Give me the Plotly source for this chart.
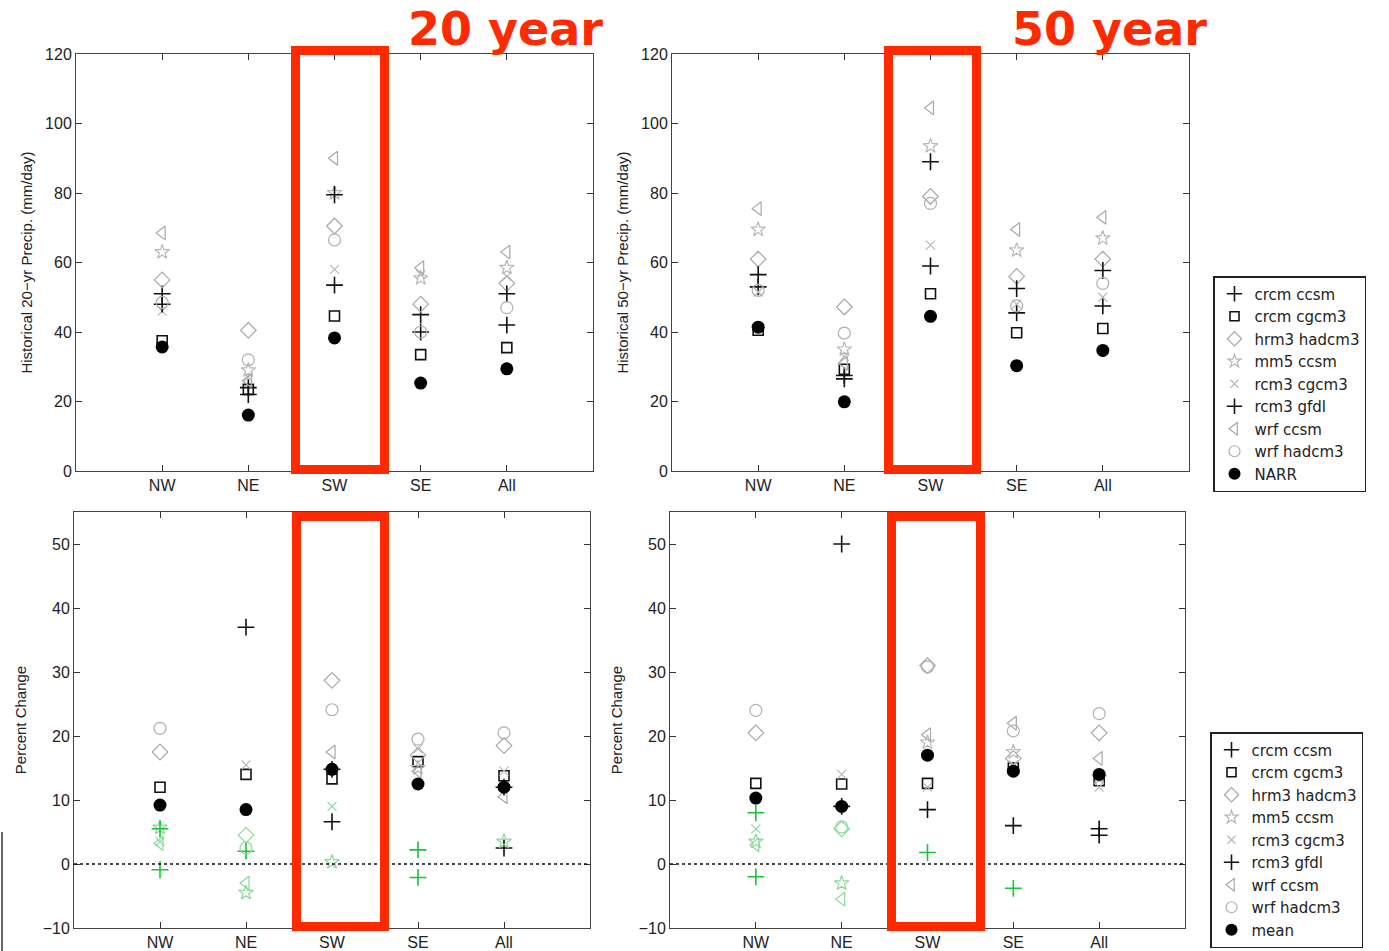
import plotly.graph_objects as go

# ---------------- data ----------------
regions = ["NW", "NE", "SW", "SE", "All"]
series = ["crcm ccsm", "crcm cgcm3", "hrm3 hadcm3", "mm5 ccsm",
          "rcm3 cgcm3", "rcm3 gfdl", "wrf ccsm", "wrf hadcm3"]

# Historical 20-yr return level precipitation (mm/day)
hist20 = {
    "crcm ccsm":   [51.0, 22.0, 53.5, 45.0, 42.0],
    "crcm cgcm3":  [37.5, 23.5, 44.6, 33.5, 35.5],
    "hrm3 hadcm3": [55.0, 40.5, 70.5, 48.0, 54.0],
    "mm5 ccsm":    [63.0, 29.0, 80.0, 55.5, 58.5],
    "rcm3 cgcm3":  [46.0, 27.0, 58.0, 56.5, 56.0],
    "rcm3 gfdl":   [48.0, 24.0, 79.5, 40.0, 51.0],
    "wrf ccsm":    [68.5, 26.0, 90.0, 58.5, 63.0],
    "wrf hadcm3":  [48.5, 32.0, 66.5, 40.0, 47.0],
}
narr20 = [35.7, 16.1, 38.3, 25.3, 29.4]

# Historical 50-yr return level precipitation (mm/day)
hist50 = {
    "crcm ccsm":   [53.0, 26.5, 59.0, 45.5, 47.5],
    "crcm cgcm3":  [40.5, 29.3, 51.0, 39.8, 41.0],
    "hrm3 hadcm3": [61.0, 47.2, 79.0, 56.0, 61.0],
    "mm5 ccsm":    [69.5, 35.0, 93.5, 63.5, 67.0],
    "rcm3 cgcm3":  [51.5, 33.0, 65.0, 48.0, 50.0],
    "rcm3 gfdl":   [56.5, 27.5, 89.0, 52.5, 57.7],
    "wrf ccsm":    [75.5, 31.0, 104.5, 69.5, 73.0],
    "wrf hadcm3":  [52.0, 39.7, 77.0, 47.5, 54.0],
}
narr50 = [41.4, 19.9, 44.5, 30.3, 34.7]

# Percent change, 20-yr return level
pct20 = {
    "crcm ccsm":   [-0.9, 2.0, 6.6, 2.2, 2.5],
    "crcm cgcm3":  [12.0, 14.0, 13.3, 16.0, 13.8],
    "hrm3 hadcm3": [17.5, 4.5, 28.7, 17.0, 18.5],
    "mm5 ccsm":    [5.7, -4.5, 0.3, 15.0, 3.5],
    "rcm3 cgcm3":  [3.5, 15.5, 9.0, 18.0, 14.5],
    "rcm3 gfdl":   [5.5, 37.0, 14.8, -2.1, 12.0],
    "wrf ccsm":    [3.2, -3.0, 17.5, 14.5, 10.5],
    "wrf hadcm3":  [21.2, 2.5, 24.1, 19.5, 20.5],
}
mean20 = [9.2, 8.5, 14.8, 12.5, 12.0]

# Percent change, 50-yr return level
pct50 = {
    "crcm ccsm":   [-2.0, 50.0, 8.5, 6.0, 5.5],
    "crcm cgcm3":  [12.6, 12.5, 12.6, 15.0, 13.0],
    "hrm3 hadcm3": [20.5, 5.5, 31.0, 16.5, 20.5],
    "mm5 ccsm":    [3.5, -3.0, 19.0, 17.5, 13.5],
    "rcm3 cgcm3":  [5.5, 14.0, 12.0, 15.5, 12.0],
    "rcm3 gfdl":   [8.0, 9.0, 1.8, -3.8, 4.5],
    "wrf ccsm":    [3.0, -5.5, 20.2, 22.0, 16.5],
    "wrf hadcm3":  [24.0, 5.8, 30.8, 20.8, 23.5],
}
mean50 = [10.3, 9.0, 17.0, 14.5, 14.0]

# changes drawn in green in the original figure
green20 = {("mm5 ccsm", "NW"), ("rcm3 gfdl", "NW"), ("wrf ccsm", "NW"),
           ("rcm3 cgcm3", "NW"), ("crcm ccsm", "NW"),
           ("hrm3 hadcm3", "NE"), ("crcm ccsm", "NE"), ("wrf ccsm", "NE"),
           ("mm5 ccsm", "NE"), ("wrf hadcm3", "NE"),
           ("mm5 ccsm", "SW"), ("rcm3 cgcm3", "SW"),
           ("crcm ccsm", "SE"), ("rcm3 gfdl", "SE"),
           ("mm5 ccsm", "All")}
green50 = {("rcm3 gfdl", "NW"), ("rcm3 cgcm3", "NW"), ("mm5 ccsm", "NW"),
           ("wrf ccsm", "NW"), ("crcm ccsm", "NW"),
           ("hrm3 hadcm3", "NE"), ("wrf hadcm3", "NE"), ("mm5 ccsm", "NE"),
           ("wrf ccsm", "NE"),
           ("rcm3 gfdl", "SW"), ("rcm3 gfdl", "SE")}

# ---------------- styles ----------------
W, H = 1389, 951
symbols = {"crcm ccsm": "cross-thin-open", "crcm cgcm3": "square-open",
           "hrm3 hadcm3": "diamond-open", "mm5 ccsm": "star-open",
           "rcm3 cgcm3": "x-thin-open", "rcm3 gfdl": "cross-thin-open",
           "wrf ccsm": "triangle-left-open", "wrf hadcm3": "circle-open"}
colors = {"crcm ccsm": "#111111", "crcm cgcm3": "#111111",
          "hrm3 hadcm3": "#a8a8a8", "mm5 ccsm": "#b8b8b8",
          "rcm3 cgcm3": "#b8b8b8", "rcm3 gfdl": "#111111",
          "wrf ccsm": "#a8a8a8", "wrf hadcm3": "#b0b0b0"}
sizes = {"crcm ccsm": 12, "crcm cgcm3": 10, "hrm3 hadcm3": 12, "mm5 ccsm": 11,
         "rcm3 cgcm3": 9, "rcm3 gfdl": 12, "wrf ccsm": 12, "wrf hadcm3": 12}
GREEN_DARK = "#17c43a"
GREEN_LIGHT = "#8ad99a"

xpos = list(range(1, len(regions) + 1))
fig = go.Figure()


def add_panel(data, ref, xa, ya, green=None):
    for s in series:
        cols = []
        for r in regions:
            if green is not None and (s, r) in green:
                cols.append(GREEN_DARK if colors[s] == "#111111" else GREEN_LIGHT)
            else:
                cols.append(colors[s])
        fig.add_trace(go.Scatter(
            x=xpos, y=data[s], mode="markers", xaxis=xa, yaxis=ya,
            showlegend=False, name=s,
            marker=dict(symbol=symbols[s], size=sizes[s], color=cols,
                        line=dict(width=1.6 if colors[s] == "#111111" else 1.2))))
    fig.add_trace(go.Scatter(
        x=xpos, y=ref, mode="markers", xaxis=xa, yaxis=ya, showlegend=False,
        marker=dict(symbol="circle", size=13, color="#000000")))


add_panel(hist20, narr20, "x", "y")
add_panel(hist50, narr50, "x2", "y2")
add_panel(pct20, mean20, "x3", "y3", green20)
add_panel(pct50, mean50, "x4", "y4", green50)

# legend entries
for leg, refname in (("legend", "NARR"), ("legend2", "mean")):
    for s in series:
        fig.add_trace(go.Scatter(
            x=[None], y=[None], mode="markers", name=s, legend=leg,
            xaxis="x", yaxis="y",
            marker=dict(symbol=symbols[s], size=sizes[s] - 1, color=colors[s],
                        line=dict(width=1.6 if colors[s] == "#111111" else 1.2))))
    fig.add_trace(go.Scatter(
        x=[None], y=[None], mode="markers", name=refname, legend=leg,
        xaxis="x", yaxis="y",
        marker=dict(symbol="circle", size=12, color="#000000")))


def px(x):
    return x / W


def py(y):
    return 1 - y / H


font = dict(family="Liberation Sans, Arial, sans-serif", size=16, color="#222222")
legfont = dict(family="DejaVu Sans, sans-serif", size=15, color="#222222")
common_x = dict(range=[0, 6], tickvals=xpos, ticktext=regions, ticks="inside",
                ticklen=6, tickcolor="#333", showline=True, linecolor="#444",
                linewidth=1, mirror="allticks", showgrid=False, zeroline=False,
                tickfont=font, automargin=False)
common_y = dict(ticks="inside", ticklen=6, tickcolor="#333", showline=True,
                linecolor="#444", linewidth=1, mirror="allticks",
                showgrid=False, zeroline=False, tickfont=font, automargin=False)
ytitle_font = dict(family=font["family"], size=15, color="#222")
legend_common = dict(xanchor="left", yanchor="top", xref="container",
                     yref="container", bordercolor="#222", borderwidth=1.5,
                     bgcolor="white", font=legfont, traceorder="normal",
                     itemsizing="trace", entrywidth=126, entrywidthmode="pixels")

fig.update_layout(
    width=W, height=H, margin=dict(l=0, r=0, t=0, b=0, autoexpand=False),
    paper_bgcolor="white", plot_bgcolor="white",
    xaxis=dict(domain=[px(76), px(593)], anchor="y", **common_x),
    yaxis=dict(domain=[py(471), py(54)], anchor="x", range=[0, 120], dtick=20,
               title=dict(text="Historical 20\u2212yr Precip. (mm/day)",
                          font=ytitle_font, standoff=8), **common_y),
    xaxis2=dict(domain=[px(672), px(1189)], anchor="y2", **common_x),
    yaxis2=dict(domain=[py(471), py(54)], anchor="x2", range=[0, 120], dtick=20,
                title=dict(text="Historical 50\u2212yr Precip. (mm/day)",
                           font=ytitle_font, standoff=8), **common_y),
    xaxis3=dict(domain=[px(74), px(590)], anchor="y3", **common_x),
    yaxis3=dict(domain=[py(928), py(512)], anchor="x3", range=[-10, 55],
                tickvals=[-10, 0, 10, 20, 30, 40, 50],
                title=dict(text="Percent Change", font=ytitle_font, standoff=12),
                **common_y),
    xaxis4=dict(domain=[px(670), px(1185)], anchor="y4", **common_x),
    yaxis4=dict(domain=[py(928), py(512)], anchor="x4", range=[-10, 55],
                tickvals=[-10, 0, 10, 20, 30, 40, 50],
                title=dict(text="Percent Change", font=ytitle_font, standoff=12),
                **common_y),
    legend=dict(x=px(1213), y=py(276), **legend_common),
    legend2=dict(x=px(1210), y=py(732), **legend_common),
)

# zero lines in the percent-change panels
for xa, ya in (("x3", "y3"), ("x4", "y4")):
    fig.add_shape(type="line", xref=f"{xa} domain", yref=ya, x0=0, x1=1, y0=0, y1=0,
                  line=dict(color="#111", width=1.3, dash="dot"))

# red highlight boxes around SW
RED = "#ff2a00"
for (x0, y0, x1, y1) in ((295.5, 50.5, 384.5, 469.5), (888.5, 50.5, 976.5, 469.5),
                         (296.5, 516.5, 384.5, 926.5), (891.5, 516.5, 980.5, 926.5)):
    fig.add_shape(type="rect", xref="paper", yref="paper",
                  x0=px(x0), x1=px(x1), y0=py(y1), y1=py(y0),
                  line=dict(color=RED, width=9), fillcolor="rgba(0,0,0,0)")

# stray edge line at bottom-left of the original image
fig.add_shape(type="line", xref="paper", yref="paper", x0=px(2), x1=px(2),
              y0=py(951), y1=py(832), line=dict(color="#333", width=1.5))

for text, xc in (("20 year", 505), ("50 year", 1109)):
    fig.add_annotation(text=text, xref="paper", yref="paper", x=px(xc), y=py(29),
                       showarrow=False, xanchor="center", yanchor="middle",
                       font=dict(family="DejaVu Sans", size=46, color=RED,
                                 weight="bold"))

fig.write_html("out.html")
